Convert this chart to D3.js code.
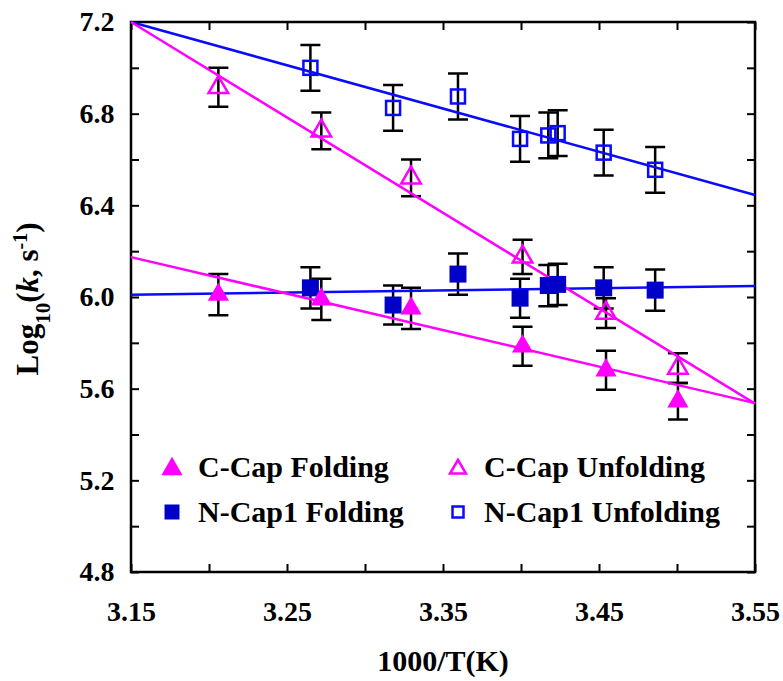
<!DOCTYPE html>
<html>
<head>
<meta charset="utf-8">
<script src="https://cdn.jsdelivr.net/npm/d3@7"></script>
<style>
  body { margin: 0; background: #fff; }
  svg text { font-family: "Liberation Serif", "Times New Roman", serif; font-weight: bold; }
</style>
</head>
<body>
<div id="chart"></div>
<script>
// temperatures (1000/T)
var cCapX = [3.206, 3.272, 3.3295, 3.401, 3.4545, 3.5006];
var nCapX = [3.265, 3.318, 3.3596, 3.3994, 3.4175, 3.4235, 3.453, 3.486];

// log10 rates and error half-widths
var cCapFold = [6.01, 5.99, 5.95, 5.785, 5.68, 5.545];
var cCapFoldErr = [0.09, 0.09, 0.09, 0.085, 0.085, 0.08];
var cCapUnfold = [6.915, 6.725, 6.52, 6.175, 5.93, 5.69];
var cCapUnfoldErr = [0.085, 0.08, 0.08, 0.075, 0.065, 0.065];
var nCapFold = [6.04, 5.965, 6.10, 5.995, 6.05, 6.055, 6.04, 6.03];
var nCapFoldErr = [0.09, 0.085, 0.09, 0.085, 0.09, 0.09, 0.09, 0.09];
var nCapUnfold = [7.0, 6.825, 6.875, 6.69, 6.705, 6.715, 6.63, 6.555];
var nCapUnfoldErr = [0.1, 0.1, 0.1, 0.1, 0.1, 0.1, 0.1, 0.1];

// linear fits (end points)
var cFoldFit = [[3.15, 6.174], [3.55, 5.537]];
var cUnfoldFit = [[3.15, 7.2], [3.55, 5.535]];
var nFoldFit = [[3.15, 6.01], [3.55, 6.048]];
var nUnfoldFit = [[3.15, 7.2], [3.55, 6.445]];

var xTicks = [3.15, 3.20, 3.25, 3.30, 3.35, 3.40, 3.45, 3.50, 3.55];
var xLabels = [3.15, 3.25, 3.35, 3.45, 3.55];
var yTicks = [4.8, 5.0, 5.2, 5.4, 5.6, 5.8, 6.0, 6.2, 6.4, 6.6, 6.8, 7.0, 7.2];
var yLabels = [4.8, 5.2, 5.6, 6.0, 6.4, 6.8, 7.2];

var w = 783, h = 681;
var pLeft = 131, pRight = 755, pTop = 22, pBottom = 572;
var magenta = '#ff00ff', blue = '#0a0aff', darkBlue = '#0000c8';

var svg = d3.select('#chart').append('svg')
	.attr('width', w)
	.attr('height', h);

var xScale = d3.scaleLinear().domain([3.15, 3.55]).range([pLeft, pRight]);
var yScale = d3.scaleLinear().domain([4.8, 7.2]).range([pBottom, pTop]);

// axes with inward ticks on all four sides
function fmt(list, digits) {
	return function (d) {
		return list.some(function (v) { return Math.abs(v - d) < 1e-6; }) ? d.toFixed(digits) : '';
	};
}
var tickLen = 8;
var axes = [
	{ axis: d3.axisBottom(xScale).tickValues(xTicks).tickFormat(fmt(xLabels, 2)), t: 'translate(0,' + pBottom + ')' },
	{ axis: d3.axisTop(xScale).tickValues(xTicks).tickFormat(''), t: 'translate(0,' + pTop + ')' },
	{ axis: d3.axisLeft(yScale).tickValues(yTicks).tickFormat(fmt(yLabels, 1)), t: 'translate(' + pLeft + ',0)' },
	{ axis: d3.axisRight(yScale).tickValues(yTicks).tickFormat(''), t: 'translate(' + pRight + ',0)' }
];
axes.forEach(function (a, i) {
	var g = svg.append('g').attr('transform', a.t)
		.call(a.axis.tickSizeInner(-tickLen).tickSizeOuter(0).tickPadding(tickLen + 10));
	g.select('.domain').remove();
	g.selectAll('line').attr('stroke', '#000').attr('stroke-width', 2);
	g.selectAll('text').attr('font-size', '28px').attr('fill', '#000');
	if (i === 0) g.selectAll('text').attr('dy', '1.1em');
	if (i === 2) g.selectAll('text').attr('dx', '0.05em');
});

svg.append('rect')
	.attr('x', pLeft).attr('y', pTop)
	.attr('width', pRight - pLeft).attr('height', pBottom - pTop)
	.attr('fill', 'none').attr('stroke', '#000').attr('stroke-width', 2.5);

// error bars
function errorBars(xs, ys, es) {
	var data = xs.map(function (x, i) { return [x, ys[i], es[i]]; });
	var g = svg.append('g').attr('stroke', '#000').attr('stroke-width', 2.5).attr('fill', 'none');
	g.selectAll('path').data(data).enter().append('path')
		.attr('d', function (d) {
			var cx = xScale(d[0]), y1 = yScale(d[1] + d[2]), y2 = yScale(d[1] - d[2]);
			return 'M' + (cx - 10) + ',' + y1 + 'H' + (cx + 10) +
				'M' + cx + ',' + y1 + 'V' + y2 +
				'M' + (cx - 10) + ',' + y2 + 'H' + (cx + 10);
		});
}
errorBars(nCapX, nCapUnfold, nCapUnfoldErr);
errorBars(cCapX, cCapUnfold, cCapUnfoldErr);
errorBars(nCapX, nCapFold, nCapFoldErr);
errorBars(cCapX, cCapFold, cCapFoldErr);

// fit lines
var line = d3.line()
	.x(function (d) { return xScale(d[0]); })
	.y(function (d) { return yScale(d[1]); });
[[nUnfoldFit, blue], [nFoldFit, blue], [cUnfoldFit, magenta], [cFoldFit, magenta]].forEach(function (f) {
	svg.append('path').datum(f[0])
		.attr('d', line)
		.attr('fill', 'none')
		.attr('stroke', f[1])
		.attr('stroke-width', 2.5);
});

// markers
var triFilled = d3.symbol(d3.symbolTriangle, 195);
var triOpen = d3.symbol(d3.symbolTriangle, 165);
function squares(xs, ys, filled) {
	svg.append('g').selectAll('rect').data(xs).enter().append('rect')
		.attr('x', function (d) { return xScale(d) - (filled ? 8.5 : 7); })
		.attr('y', function (d, i) { return yScale(ys[i]) - (filled ? 8.5 : 7); })
		.attr('width', filled ? 17 : 14)
		.attr('height', filled ? 17 : 14)
		.attr('fill', filled ? darkBlue : 'none')
		.attr('stroke', filled ? 'none' : blue)
		.attr('stroke-width', 2.5);
}
function triangles(xs, ys, filled) {
	svg.append('g').selectAll('path').data(xs).enter().append('path')
		.attr('transform', function (d, i) { return 'translate(' + xScale(d) + ',' + yScale(ys[i]) + ')'; })
		.attr('d', filled ? triFilled : triOpen)
		.attr('fill', filled ? magenta : 'none')
		.attr('stroke', filled ? 'none' : magenta)
		.attr('stroke-width', 2.5);
}
squares(nCapX, nCapUnfold, false);
triangles(cCapX, cCapUnfold, false);
squares(nCapX, nCapFold, true);
triangles(cCapX, cCapFold, true);

// legend
var legend = [
	{ label: 'C-Cap Folding', x: 172, y: 467, kind: 'tri', filled: true },
	{ label: 'C-Cap Unfolding', x: 458, y: 467, kind: 'tri', filled: false },
	{ label: 'N-Cap1 Folding', x: 172, y: 512, kind: 'sq', filled: true },
	{ label: 'N-Cap1 Unfolding', x: 458, y: 512, kind: 'sq', filled: false }
];
legend.forEach(function (l) {
	if (l.kind === 'tri') {
		svg.append('path')
			.attr('transform', 'translate(' + l.x + ',' + (l.y + 2) + ')')
			.attr('d', l.filled ? triFilled : d3.symbol(d3.symbolTriangle, 110))
			.attr('fill', l.filled ? magenta : 'none')
			.attr('stroke', l.filled ? 'none' : magenta)
			.attr('stroke-width', 2.5);
	} else {
		var s = l.filled ? 15 : 11;
		svg.append('rect')
			.attr('x', l.x - s / 2).attr('y', l.y - s / 2)
			.attr('width', s).attr('height', s)
			.attr('fill', l.filled ? darkBlue : 'none')
			.attr('stroke', l.filled ? 'none' : blue)
			.attr('stroke-width', 2.5);
	}
	svg.append('text')
		.attr('x', l.x + 26).attr('y', l.y + 10)
		.attr('font-size', '30px')
		.text(l.label);
});

// axis titles
svg.append('text')
	.attr('x', 443).attr('y', 671)
	.attr('text-anchor', 'middle')
	.attr('font-size', '30px')
	.text('1000/T(K)');

var yt = svg.append('text')
	.attr('transform', 'translate(38,299) rotate(-90)')
	.attr('text-anchor', 'middle')
	.attr('font-size', '31px');
yt.append('tspan').text('Log');
yt.append('tspan').attr('baseline-shift', 'sub').attr('font-size', '21px').text('10');
yt.append('tspan').text('(');
yt.append('tspan').attr('font-style', 'italic').text('k');
yt.append('tspan').text(', s');
yt.append('tspan').attr('baseline-shift', 'super').attr('font-size', '20px').text('-1');
yt.append('tspan').text(')');
</script>
</body>
</html>
